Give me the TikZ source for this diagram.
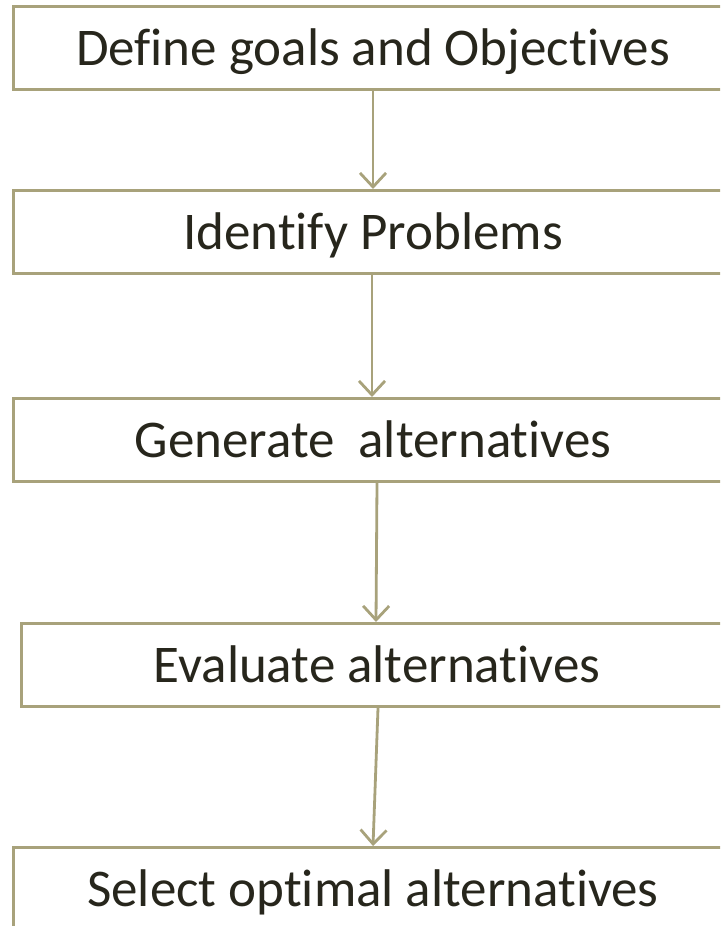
\documentclass[tikz,border=0pt]{standalone}
\usepackage{fontspec}
\setmainfont[Ligatures=NoCommon]{Carlito}
\usetikzlibrary{arrows.meta}
\definecolor{frame}{HTML}{A8A27B}
\definecolor{ink}{HTML}{27261C}
\tikzset{
  stepbox/.style={draw=frame, line width=3pt, fill=white, text=ink,
    minimum height=83pt, inner sep=0pt, text height=40pt, text depth=5pt,
    font=\fontsize{53}{63}\selectfont},
  flow/.style={draw=frame, line width=2.8pt,
    -{Straight Barb[length=14pt,width=26pt,line width=2.8pt]}}
}
\begin{document}
\begin{tikzpicture}[x=1pt,y=-1pt]
  \useasboundingbox (0,0) rectangle (720,926);
  \clip (0,0) rectangle (720,926);
  \node[stepbox, minimum width=720pt] (b1) at (373,47.5) {Define goals and Objectives};
  \node[stepbox, minimum width=720pt] (b2) at (373,232) {Identify Problems};
  \node[stepbox, minimum width=720pt] (b3) at (373,440) {Generate\ \ alternatives};
  \node[stepbox, minimum width=712pt] (b4) at (377,665) {Evaluate alternatives};
  \node[stepbox, minimum width=720pt] (b5) at (373,889) {Select optimal alternatives};
  \draw[flow] (b1.south) -- (b2.north);
  \draw[flow] ([xshift=-1pt]b2.south) -- ([xshift=-1pt]b3.north);
  \draw[flow] ([xshift=4pt]b3.south) -- ([xshift=-1pt]b4.north);
  \draw[flow] ([xshift=1pt]b4.south) -- (b5.north);
\end{tikzpicture}
\end{document}
